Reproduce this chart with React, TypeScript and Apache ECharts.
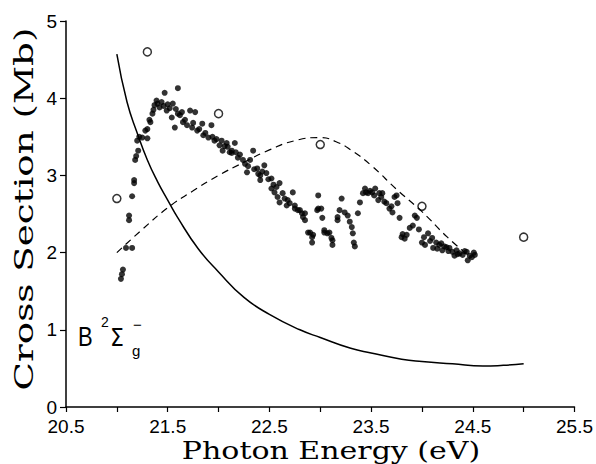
import React, { useEffect, useRef } from "react";
import * as echarts from "echarts";

// Solid curve (theory)
const solidX = [21.0, 21.1, 21.2, 21.3, 21.4, 21.5, 21.6, 21.8, 22.0, 22.25, 22.5, 22.8, 23.0, 23.3, 23.5, 23.8, 24.0, 24.3, 24.6, 24.8, 25.0];
const solidY = [4.57, 3.95, 3.55, 3.2, 2.92, 2.68, 2.45, 2.05, 1.75, 1.42, 1.2, 1.0, 0.9, 0.76, 0.7, 0.62, 0.59, 0.56, 0.53, 0.54, 0.56];

// Dashed curve
const dashX = [21.0, 21.25, 21.5, 21.75, 22.0, 22.25, 22.5, 22.75, 23.0, 23.15, 23.3, 23.5, 23.75, 24.0, 24.25, 24.45];
const dashY = [2.0, 2.3, 2.58, 2.8, 3.0, 3.17, 3.33, 3.45, 3.49, 3.44, 3.33, 3.13, 2.82, 2.53, 2.2, 1.97];

// Open circles
const circX = [21.0, 21.3, 22.0, 23.0, 24.0, 25.0];
const circY = [2.7, 4.6, 3.8, 3.4, 2.6, 2.2];

// Measured dense points [energy, cross section]
const measured: [number, number][] = [
  [21.04, 1.66], [21.05, 1.72], [21.06, 1.78], [21.09, 2.06], [21.15, 2.06], [21.12, 2.42], [21.12, 2.48],
  [21.15, 2.73], [21.17, 2.94], [21.17, 2.9], [21.18, 3.2], [21.19, 3.25], [21.21, 3.32], [21.2, 3.45],
  [21.22, 3.5], [21.25, 3.49], [21.3, 3.48], [21.28, 3.58], [21.3, 3.6], [21.33, 3.69], [21.32, 3.72],
  [21.35, 3.8], [21.36, 3.85], [21.37, 3.91], [21.4, 3.93], [21.42, 3.88], [21.39, 3.97], [21.44, 3.95],
  [21.47, 4.07], [21.46, 3.9], [21.49, 3.84], [21.5, 3.92], [21.52, 3.87], [21.54, 3.75], [21.55, 3.93],
  [21.57, 3.62], [21.58, 3.86], [21.6, 4.13], [21.6, 3.8], [21.62, 3.78], [21.64, 3.82], [21.65, 3.69],
  [21.67, 3.72], [21.69, 3.65], [21.72, 3.84], [21.74, 3.62], [21.75, 3.68], [21.77, 3.82], [21.79, 3.58],
  [21.81, 3.6], [21.84, 3.67], [21.85, 3.52], [21.87, 3.55], [21.9, 3.49], [21.93, 3.65], [21.94, 3.5],
  [21.96, 3.45], [21.98, 3.47], [22.01, 3.39], [22.03, 3.45], [22.04, 3.32], [22.06, 3.38], [22.08, 3.42],
  [22.09, 3.37], [22.11, 3.3], [22.13, 3.29], [22.13, 3.32], [22.16, 3.42], [22.17, 3.3], [22.19, 3.23],
  [22.21, 3.27], [22.24, 3.2], [22.26, 3.15], [22.28, 3.04], [22.29, 3.12], [22.31, 3.2], [22.34, 3.32],
  [22.35, 3.08], [22.38, 3.09], [22.39, 3.02], [22.41, 3.0], [22.41, 2.94], [22.43, 3.05], [22.45, 3.13],
  [22.47, 3.03], [22.49, 2.95], [22.52, 2.96], [22.52, 2.83], [22.54, 2.88], [22.55, 2.78], [22.57, 2.85],
  [22.58, 2.72], [22.6, 2.65], [22.6, 2.9], [22.63, 2.77], [22.65, 2.7], [22.67, 2.61], [22.68, 2.68],
  [22.7, 2.64], [22.73, 2.78], [22.75, 2.57], [22.75, 2.61], [22.78, 2.55], [22.8, 2.55], [22.82, 2.51],
  [22.83, 2.46], [22.85, 2.42], [22.85, 2.51], [22.88, 2.26], [22.9, 2.26], [22.92, 2.2], [22.92, 2.13],
  [22.93, 2.23], [22.97, 2.55], [22.98, 2.74], [22.98, 2.57], [23.01, 2.57], [23.02, 2.45], [23.04, 2.29],
  [23.04, 2.26], [23.07, 2.25], [23.09, 2.26], [23.11, 2.19], [23.12, 2.1], [23.12, 2.16], [23.17, 2.42],
  [23.17, 2.46], [23.19, 2.55], [23.21, 2.7], [23.24, 2.52], [23.27, 2.48], [23.29, 2.4], [23.31, 2.33],
  [23.32, 2.25], [23.33, 2.13], [23.34, 2.08], [23.37, 2.51], [23.39, 2.65], [23.42, 2.77], [23.44, 2.83],
  [23.45, 2.78], [23.47, 2.77], [23.49, 2.8], [23.51, 2.78], [23.53, 2.74], [23.54, 2.83], [23.57, 2.68],
  [23.58, 2.77], [23.6, 2.72], [23.61, 2.77], [23.63, 2.66], [23.65, 2.64], [23.68, 2.57], [23.7, 2.6],
  [23.71, 2.52], [23.73, 2.72], [23.75, 2.74], [23.76, 2.64], [23.78, 2.45], [23.8, 2.2], [23.81, 2.24],
  [23.83, 2.18], [23.85, 2.23], [23.88, 2.32], [23.91, 2.35], [23.93, 2.48], [23.95, 2.45], [23.97, 2.3],
  [24.0, 2.13], [24.02, 2.2], [24.03, 2.1], [24.06, 2.25], [24.08, 2.15], [24.1, 2.19], [24.11, 2.06],
  [24.14, 2.13], [24.15, 2.05], [24.17, 2.1], [24.19, 2.12], [24.2, 2.03], [24.22, 2.08], [24.24, 2.07],
  [24.26, 2.02], [24.27, 2.06], [24.3, 2.01], [24.32, 1.96], [24.34, 2.03], [24.35, 1.98], [24.37, 1.99],
  [24.4, 1.97], [24.42, 2.02], [24.44, 2.01], [24.45, 1.9], [24.47, 1.96], [24.49, 1.94], [24.51, 2.0],
  [24.52, 1.97],
];

const xTitle = "Photon Energy (eV)";
const yTitle = "Cross Section (Mb)";

export default function App() {
  const ref = useRef<HTMLDivElement>(null);
  useEffect(() => {
    if (!ref.current) return;
    const chart = echarts.init(ref.current, undefined, { renderer: "svg" });
    const tickFont = { fontFamily: "Liberation Sans", fontSize: 19, color: "#000" };
    const titleStyle = { fontFamily: "DejaVu Serif", fontSize: 24, fill: "#000" };
    chart.setOption({
      animation: false,
      backgroundColor: "#fff",
      grid: { left: 66, right: 21, top: 21, bottom: 57 },
      xAxis: {
        type: "value",
        min: 20.5,
        max: 25.5,
        interval: 0.5,
        splitLine: { show: false },
        axisLine: { lineStyle: { color: "#000", width: 1.5 } },
        axisTick: { inside: false, length: 5, lineStyle: { color: "#000", width: 1.2 } },
        axisLabel: {
          ...tickFont,
          margin: 10,
          lineHeight: 18,
          showMinLabel: true,
          showMaxLabel: true,
          formatter: (v: number) => (Math.abs((v - 20.5) % 1) < 1e-6 ? v.toFixed(1) : ""),
        },
      },
      yAxis: {
        type: "value",
        min: 0,
        max: 5,
        interval: 1,
        splitLine: { show: false },
        axisLine: { show: true, lineStyle: { color: "#000", width: 1.5 } },
        axisTick: { show: true, inside: false, length: 6, lineStyle: { color: "#000", width: 1.2 } },
        axisLabel: { ...tickFont, margin: 9, lineHeight: 14, verticalAlign: "middle",
          formatter: (v: number) => String(v) },
      },
      graphic: [
        {
          type: "text",
          x: 331,
          y: 451,
          scaleX: 1.25,
          style: { ...titleStyle, text: xTitle, textAlign: "center", textVerticalAlign: "middle" },
        },
        {
          type: "text",
          x: 24,
          y: 209,
          rotation: Math.PI / 2,
          scaleX: 1.55,
          scaleY: 1.05,
          style: { ...titleStyle, text: yTitle, textAlign: "center", textVerticalAlign: "middle" },
        },
        {
          type: "text",
          x: 78,
          y: 350,
          scaleY: 1.25,
          style: { text: "B", font: "22px 'Liberation Sans'", fill: "#000", textVerticalAlign: "bottom" },
        },
        {
          type: "text",
          x: 101,
          y: 329,
          style: { text: "2", font: "14px 'Liberation Sans'", fill: "#000", textVerticalAlign: "bottom" },
        },
        {
          type: "text",
          x: 110,
          y: 350,
          scaleY: 1.1,
          style: { text: "Σ", font: "22px 'DejaVu Sans'", fill: "#000", textVerticalAlign: "bottom" },
        },
        {
          type: "text",
          x: 132,
          y: 358,
          style: { text: "g", font: "15px 'Liberation Sans'", fill: "#000", textVerticalAlign: "bottom" },
        },
        {
          type: "text",
          x: 133,
          y: 332,
          style: { text: "−", font: "15px 'Liberation Sans'", fill: "#000", textVerticalAlign: "bottom" },
        },
      ],
      series: [
        {
          type: "line",
          data: solidX.map((x, i) => [x, solidY[i]]),
          smooth: true,
          showSymbol: false,
          lineStyle: { color: "#000", width: 1.5 },
        },
        {
          type: "line",
          data: dashX.map((x, i) => [x, dashY[i]]),
          smooth: true,
          showSymbol: false,
          lineStyle: { color: "#000", width: 1.2, type: [7, 5] },
        },
        {
          type: "scatter",
          data: measured,
          symbol: "circle",
          symbolSize: 6,
          itemStyle: { color: "#000" },
        },
        {
          type: "scatter",
          data: circX.map((x, i) => [x, circY[i]]),
          symbol: "circle",
          symbolSize: 8,
          itemStyle: { color: "#fff", borderColor: "#000", borderWidth: 1.5 },
        },
      ],
    });
    return () => chart.dispose();
  }, []);
  return <div ref={ref} style={{ width: 596, height: 464, position: "absolute", left: 0, top: 0 }} />;
}
